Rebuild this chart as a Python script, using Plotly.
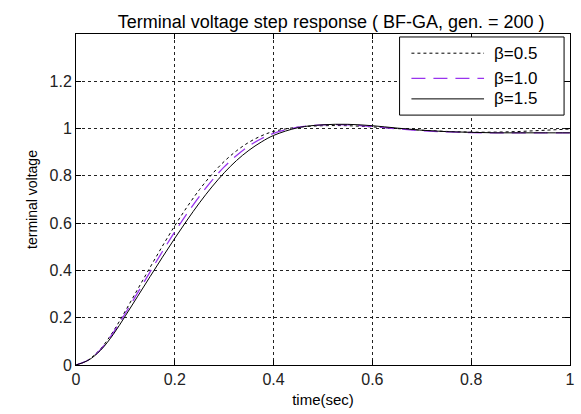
import plotly.graph_objects as go

t = [0, 0.025, 0.05, 0.075, 0.1, 0.125, 0.15, 0.175, 0.2, 0.225, 0.25, 0.275, 0.3,
     0.325, 0.35, 0.375, 0.4, 0.45, 0.5, 0.55, 0.6, 0.65, 0.7, 0.75, 0.8, 0.85,
     0.9, 0.95, 1.0]

v_b05 = [0, 0.022, 0.069, 0.141, 0.229, 0.321, 0.413, 0.503, 0.589, 0.669, 0.742, 0.806, 0.861,
         0.906, 0.942, 0.969, 0.988, 1.006, 1.012, 1.012, 1.007, 1.0, 0.993, 0.988, 0.985,
         0.985, 0.988, 0.993, 0.998]

v_b10 = [0, 0.021, 0.066, 0.135, 0.219, 0.306, 0.394, 0.48, 0.563, 0.641, 0.714, 0.78, 0.838,
         0.886, 0.926, 0.957, 0.98, 1.006, 1.016, 1.016, 1.009, 0.999, 0.991, 0.986, 0.983,
         0.982, 0.982, 0.982, 0.982]

v_b15 = [0, 0.02, 0.063, 0.128, 0.208, 0.291, 0.374, 0.456, 0.536, 0.613, 0.686, 0.753, 0.813,
         0.865, 0.908, 0.943, 0.971, 1.004, 1.016, 1.018, 1.012, 1.002, 0.993, 0.987, 0.984,
         0.982, 0.982, 0.982, 0.982]

names = ["β=0.5", "β=1.0", "β=1.5"]
x_ticks = [0, 0.2, 0.4, 0.6, 0.8, 1]
x_ticklabels = ["0", "0.2", "0.4", "0.6", "0.8", "1"]
y_ticks = [0, 0.2, 0.4, 0.6, 0.8, 1, 1.2]
y_ticklabels = ["0", "0.2", "0.4", "0.6", "0.8", "1", "1.2"]

font = "Liberation Sans, Arial, sans-serif"
styles = [dict(color="black", width=1, dash="3px,3px"),
          dict(color="#9933ee", width=1.3, dash="14px,8px"),
          dict(color="black", width=1)]
series = [v_b05, v_b10, v_b15]

fig = go.Figure()
for nm, ys, st in zip(names, series, styles):
    fig.add_trace(go.Scatter(x=t, y=ys, mode="lines", name=nm, line=st,
                             line_shape="spline", showlegend=False))

axis_common = dict(
    showline=True, linecolor="black", linewidth=1, mirror="ticks",
    ticks="inside", ticklen=5, tickcolor="black",
    showgrid=True, gridcolor="#222", gridwidth=1, griddash="3px,3px",
    zeroline=False, tickfont=dict(family=font, size=16, color="#222"),
)

fig.update_xaxes(range=[0, 1], tickvals=x_ticks, ticktext=x_ticklabels,
                 title=dict(text="time(sec)", font=dict(family=font, size=15, color="black"), standoff=7),
                 **axis_common)
fig.update_yaxes(range=[0, 1.4], tickvals=y_ticks, ticktext=y_ticklabels,
                 title=dict(text="terminal voltage", font=dict(family=font, size=14, color="black"), standoff=8),
                 **axis_common)

# manual legend (box, line samples, labels) in paper coordinates
leg_box = dict(x0=0.655, x1=0.988, y0=0.755, y1=0.991)
leg_line_x = (0.679, 0.826)
leg_item_y = [0.942, 0.866, 0.804]
leg_text_x = 0.842

shapes = [dict(type="rect", xref="paper", yref="paper", layer="above",
               line=dict(color="black", width=1), fillcolor="white", **leg_box)]
annotations = []
for nm, st, yy in zip(names, styles, leg_item_y):
    shapes.append(dict(type="line", xref="paper", yref="paper", layer="above",
                       x0=leg_line_x[0], x1=leg_line_x[1], y0=yy, y1=yy, line=st))
    annotations.append(dict(text=nm, xref="paper", yref="paper", x=leg_text_x, y=yy,
                            xanchor="left", yanchor="middle", showarrow=False,
                            font=dict(family=font, size=17, color="black")))

fig.update_layout(
    width=581, height=414,
    margin=dict(l=76, r=6, t=34, b=49),
    paper_bgcolor="white", plot_bgcolor="white",
    title=dict(text="Terminal voltage step response ( BF-GA, gen. = 200 )",
               font=dict(family=font, size=18, color="black"),
               x=0.57, xanchor="center", y=0.947, yanchor="middle"),
    shapes=shapes, annotations=annotations,
    showlegend=False,
)

fig.write_html("out.html")
